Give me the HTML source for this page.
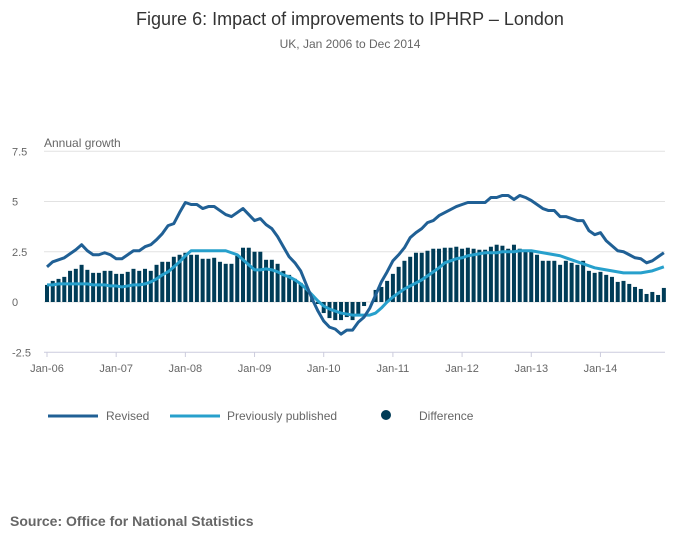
<!DOCTYPE html>
<html><head><meta charset="utf-8"><style>
body{margin:0;background:#fff;font-family:"Liberation Sans",sans-serif;}
svg text{font-family:"Liberation Sans",sans-serif;}
</style></head><body>
<svg id="chart" width="700" height="549">
<text x="350" y="25" text-anchor="middle" font-size="18" fill="#333">Figure 6: Impact of improvements to IPHRP – London</text>
<text x="350" y="48" text-anchor="middle" font-size="12" fill="#666">UK, Jan 2006 to Dec 2014</text>
<text x="44" y="147" font-size="12" fill="#666">Annual growth</text>
<g id="grid"></g><g id="bars"></g><g id="lines"></g><g id="xaxis"></g>
<g>
<line x1="48" y1="416" x2="98" y2="416" stroke="#206095" stroke-width="3"/>
<text x="106" y="420" font-size="12" fill="#666">Revised</text>
<line x1="170" y1="416" x2="220" y2="416" stroke="#27a0cc" stroke-width="3"/>
<text x="227" y="420" font-size="12" fill="#666">Previously published</text>
<circle cx="386" cy="415" r="5" fill="#003c57"/>
<text x="419" y="420" font-size="12" fill="#666">Difference</text>
</g>
<text x="10" y="526" font-size="14" font-weight="bold" fill="#666">Source: Office for National Statistics</text>
</svg>
<script>
const yTicks=[7.5,5,2.5,0,-2.5];
const yTickLabels=["7.5","5","2.5","0","-2.5"];
const xTickLabels=["Jan-06","Jan-07","Jan-08","Jan-09","Jan-10","Jan-11","Jan-12","Jan-13","Jan-14"];
const revised=[1.75,2.0,2.1,2.2,2.4,2.6,2.85,2.55,2.35,2.35,2.45,2.35,
2.15,2.15,2.35,2.55,2.55,2.75,2.85,3.1,3.4,3.8,3.9,4.45,
4.95,4.85,4.85,4.65,4.75,4.75,4.55,4.35,4.25,4.45,4.65,4.35,
4.05,4.15,3.85,3.65,3.25,2.75,2.25,1.95,1.55,0.85,0.15,-0.45,
-0.95,-1.25,-1.35,-1.6,-1.4,-1.4,-1.0,-0.75,-0.3,0.35,1.0,1.5,
2.05,2.35,2.7,3.2,3.45,3.65,3.95,4.05,4.3,4.45,4.6,4.75,
4.85,4.95,4.95,4.95,4.95,5.2,5.2,5.3,5.3,5.1,5.3,5.2,
5.05,4.85,4.65,4.55,4.55,4.25,4.25,4.15,4.05,4.05,3.55,3.35,
3.45,3.05,2.8,2.55,2.5,2.35,2.2,2.15,1.95,2.05,2.25,2.45];
const previous=[0.85,0.85,0.9,0.9,0.9,0.9,0.9,0.9,0.85,0.85,0.85,0.8,
0.8,0.75,0.8,0.85,0.85,0.9,1.0,1.15,1.35,1.5,1.75,2.0,
2.3,2.55,2.55,2.55,2.55,2.55,2.55,2.55,2.45,2.35,2.1,1.85,
1.6,1.6,1.65,1.6,1.5,1.35,1.25,1.1,0.9,0.65,0.35,0.05,
-0.2,-0.35,-0.45,-0.55,-0.6,-0.65,-0.65,-0.65,-0.65,-0.55,-0.3,0.0,
0.25,0.45,0.65,0.8,0.95,1.1,1.3,1.5,1.7,1.95,2.05,2.15,
2.2,2.3,2.35,2.4,2.45,2.45,2.45,2.5,2.5,2.5,2.55,2.55,
2.55,2.5,2.45,2.4,2.35,2.3,2.2,2.1,2.0,1.9,1.8,1.7,
1.65,1.6,1.55,1.5,1.45,1.45,1.45,1.45,1.5,1.55,1.65,1.75];
const difference=[0.85,1.05,1.15,1.25,1.55,1.65,1.85,1.6,1.45,1.45,1.55,1.55,
1.4,1.4,1.5,1.65,1.55,1.65,1.55,1.85,2.0,2.0,2.25,2.35,
2.45,2.35,2.35,2.15,2.15,2.2,2.0,1.9,1.9,2.3,2.7,2.7,
2.5,2.5,2.1,2.1,1.9,1.55,1.35,1.15,0.95,0.65,0.35,-0.1,
-0.55,-0.8,-0.9,-0.9,-0.75,-0.9,-0.7,-0.2,0,0.6,0.75,1.05,
1.4,1.75,2.05,2.25,2.45,2.45,2.55,2.65,2.65,2.7,2.7,2.75,
2.65,2.7,2.65,2.6,2.6,2.75,2.85,2.8,2.65,2.85,2.65,2.6,
2.5,2.35,2.05,2.05,2.05,1.85,2.05,1.95,1.85,2.05,1.55,1.45,
1.5,1.35,1.25,1.0,1.05,0.9,0.75,0.65,0.4,0.5,0.35,0.7];
const NS="http://www.w3.org/2000/svg";
const X=i=>47+i*5.765;
const Y=v=>302-v*20.1;
function mk(t,a,p){const e=document.createElementNS(NS,t);for(const k in a)e.setAttribute(k,a[k]);p.appendChild(e);return e;}
const grid=document.getElementById('grid');
yTicks.forEach((v,i)=>{
 const l=mk('line',{x1:44,x2:665,y1:Y(v),y2:Y(v),stroke:v===-2.5?'#ccd':'#e2e2e2','stroke-width':1},grid);
 
 
 const t=mk('text',{x:12,y:Y(v)+4,'font-size':11,fill:'#666'},grid);t.textContent=yTickLabels[i];
 
 
});
const bars=document.getElementById('bars');
difference.forEach((v,i)=>{
 const r=mk('rect',{x:X(i)-2,width:4,y:Math.min(Y(v),Y(0)),height:Math.abs(Y(v)-Y(0)),fill:'#003c57'},bars);
 
 
});
const lines=document.getElementById('lines');
[[previous,'#27a0cc','previous-line'],[revised,'#206095','revised-line']].forEach(([d,c,n])=>{
 const p=mk('polyline',{points:d.map((v,i)=>X(i)+','+Y(v)).join(' '),fill:'none',stroke:c,'stroke-width':3,'stroke-linejoin':'round'},lines);
 
 
});
const xa=document.getElementById('xaxis');
xTickLabels.forEach((s,k)=>{
 const x=X(k*12);
 const tk=mk('line',{x1:x,x2:x,y1:352,y2:357,stroke:'#ccd'},xa);
 
 
 const t=mk('text',{x:x,y:372,'font-size':11,fill:'#666','text-anchor':'middle'},xa);t.textContent=s;
 
 
});
</script>
</body></html>
